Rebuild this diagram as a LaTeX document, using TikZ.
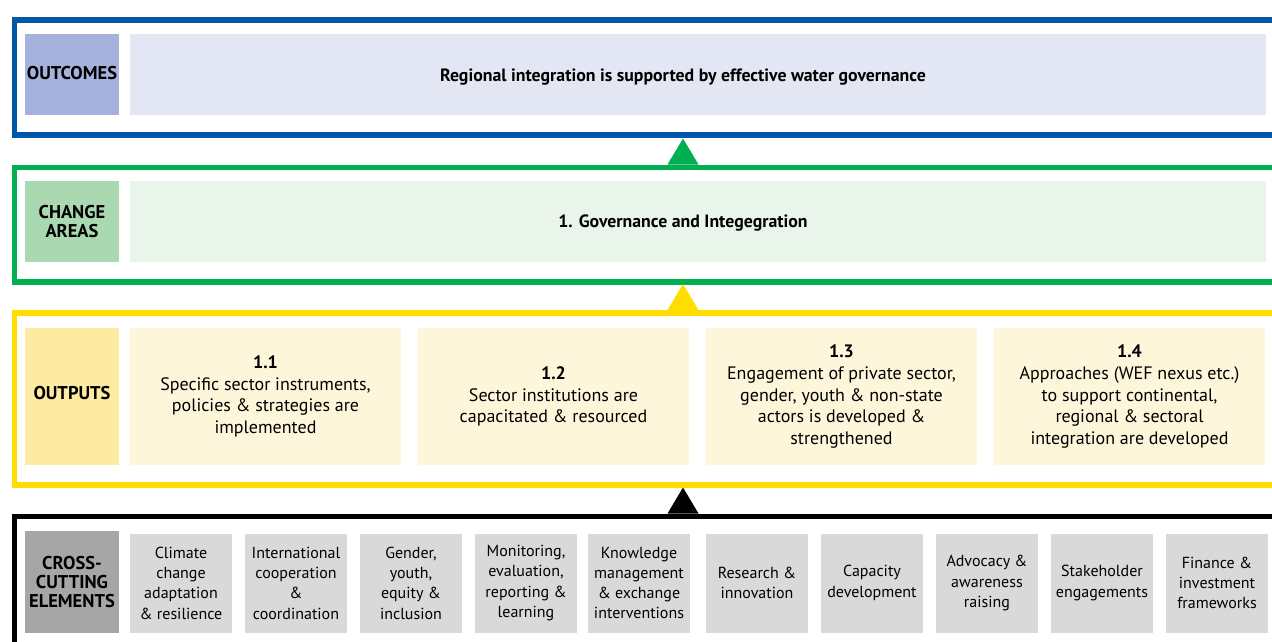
\documentclass[tikz,border=0pt]{standalone}
\usepackage{fontspec}
\setmainfont{PT Sans}
\usepackage{xcolor}
\usepackage{tikz}
\usetikzlibrary{positioning}
\definecolor{outblue}{HTML}{0057A8}
\definecolor{outtag}{HTML}{A6B2DB}
\definecolor{outlight}{HTML}{E3E7F3}
\definecolor{chgreen}{HTML}{00B050}
\definecolor{chtag}{HTML}{AAD8B0}
\definecolor{chlight}{HTML}{E9F4EA}
\definecolor{opyellow}{HTML}{FFDD00}
\definecolor{optag}{HTML}{FDEBA1}
\definecolor{oplight}{HTML}{FEF6DA}
\definecolor{cctag}{HTML}{A6A6A6}
\definecolor{cclight}{HTML}{D9D9D9}
\tikzstyle{band} = [draw, line width=5.5pt, anchor=north west, minimum width=1290pt, inner sep=0pt]
\tikzstyle{tag} = [font=\fontsize{18.5}{18.5}\selectfont\bfseries, align=center, minimum width=94pt, inner sep=0pt]
\tikzstyle{wide} = [minimum width=1136pt, minimum height=81pt, inner sep=0pt]
\tikzstyle{headline} = [font=\fontsize{17.8}{20}\selectfont\bfseries, inner sep=0pt]
\tikzstyle{outbox} = [font=\fontsize{18}{21.7}\selectfont, align=center, fill=oplight, minimum width=271pt, minimum height=137pt, inner sep=0pt]
\tikzstyle{ccbox} = [font=\fontsize{16}{20.3}\selectfont, align=center, fill=cclight, minimum width=102pt, minimum height=99pt, inner sep=0pt]

\begin{document}
\begin{tikzpicture}[x=1pt, y=-1pt]
	\useasboundingbox (0,0) rectangle (1272,641);
	\clip (0,0) rectangle (1272,641);
	
	% frames
	\node (outframe) [band, draw=outblue, minimum height=115pt] at (11.5,17) {};
	\node (chframe) [band, draw=chgreen, minimum height=114.5pt] at (11.5,164.5) {};
	\node (opframe) [band, draw=opyellow, minimum height=172pt] at (11.5,310) {};
	\node (ccframe) [band, draw=black, minimum height=190pt] at (11.5,513.5) {};
	
	% arrows between levels
	\coordinate (mid) at (683,0);
	\fill [chgreen] (mid |- chframe.north) ++(-15.5,0) -- ++(31,0) -- ++(-15.5,-26) -- cycle;
	\fill [opyellow] (mid |- opframe.north) ++(-15.5,0) -- ++(31,0) -- ++(-15.5,-26) -- cycle;
	\fill [black] (mid |- ccframe.north) ++(-15.5,0) -- ++(31,0) -- ++(-15.5,-26) -- cycle;
	
	% outcomes
	\node (outlabel) [tag, fill=outtag, minimum height=81pt] at (72,74.5) {\raisebox{2.5pt}{OUTCOMES}};
	\node (outbg) [wide, fill=outlight] at (698,74.5) {};
	\node (outtext) [headline] at ([yshift=-2.5pt]mid |- outbg) {Regional integration is supported by effective water governance};
	
	% change areas
	\node (chlabel) [tag, fill=chtag, minimum height=81pt] at (72,221.5) {CHANGE\\AREAS};
	\node (chbg) [wide, fill=chlight] at (698,221.5) {};
	\node (chtext) [headline] at ([yshift=-1.5pt]mid |- chbg) {1. Governance and Integegration};
	
	% outputs
	\node (oplabel) [tag, fill=optag, minimum height=137pt] at (72,396.5) {\raisebox{7pt}{OUTPUTS}};
	\begin{scope}[node distance=288pt]
		\node (op1) [outbox] at (265.5,396.5) {\textbf{1.1}\\Specific sector instruments,\\policies \& strategies are\\implemented};
		\node (op2) [outbox, right of=op1] {\textbf{1.2}\\Sector institutions are\\capacitated \& resourced};
		\node (op3) [outbox, right of=op2] {\textbf{1.3}\\Engagement of private sector,\\gender, youth \& non-state\\actors is developed \&\\strengthened};
		\node (op4) [outbox, right of=op3] {\textbf{1.4}\\Approaches (WEF nexus etc.)\\to support continental,\\regional \& sectoral\\integration are developed};
	\end{scope}
	
	% cross-cutting elements
	\node (cclabel) [tag, fill=cctag, minimum height=102pt, font=\fontsize{18.5}{19}\selectfont\bfseries] at (72,582) {CROSS-\\CUTTING\\ELEMENTS};
	\begin{scope}[node distance=115pt]
		\node (cc1) [ccbox] at (181,583) {Climate\\change\\adaptation\\\& resilience};
		\node (cc2) [ccbox, right of=cc1] {International\\cooperation\\\&\\coordination};
		\node (cc3) [ccbox, right of=cc2] {Gender,\\youth,\\equity \&\\inclusion};
		\node (cc4) [ccbox, right of=cc3] {Monitoring,\\evaluation,\\reporting \&\\learning};
		\node (cc5) [ccbox, right of=cc4, xshift=-2pt] {Knowledge\\management\\\& exchange\\interventions};
		\node (cc6) [ccbox, right of=cc5, xshift=3pt] {Research \&\\innovation};
		\node (cc7) [ccbox, right of=cc6] {Capacity\\development};
		\node (cc8) [ccbox, right of=cc7] {Advocacy \&\\awareness\\raising};
		\node (cc9) [ccbox, right of=cc8] {Stakeholder\\engagements};
		\node (cc10) [ccbox, right of=cc9] {Finance \&\\investment\\frameworks};
	\end{scope}
\end{tikzpicture}
\end{document}
